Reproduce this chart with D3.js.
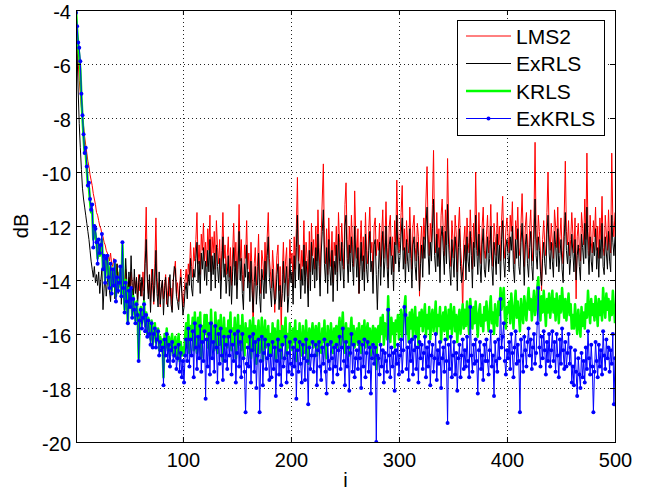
<!DOCTYPE HTML>
<html>
  <head>
    <meta charset="utf-8">
    <style>
      body { margin: 0; background: #fff; }
      text { font-family: "Liberation Sans", Arial, sans-serif; }
    </style>
  </head>
  <body>
    <script type="text/javascript" src="https://cdn.jsdelivr.net/npm/d3@7"></script>
    <script>

    // *** DATA ***

    // tick values / labels
    var xTicks = [100, 200, 300, 400, 500];
    var xTickLabels = ['100', '200', '300', '400', '500'];
    var yTicks = [-20, -18, -16, -14, -12, -10, -8, -6, -4];
    var yTickLabels = ['-20', '-18', '-16', '-14', '-12', '-10', '-8', '-6', '-4'];

    // legend names
    var seriesNames = ['LMS2', 'ExRLS', 'KRLS', 'ExKRLS'];

    // LMS2 (dB), i = 1..500
    var lms2 = [
      -4.0,-5.0,-5.9,-6.6,-7.1,-7.6,-8.0,-8.3,-8.7,-9.0,-9.3,-9.6,-9.8,-10.1,-10.3,-10.5,-10.8,-11.0,-11.2,-11.5,
      -11.6,-11.8,-12.0,-12.1,-12.3,-12.4,-12.6,-12.7,-12.9,-13.0,-13.1,-13.3,-13.0,-13.4,-13.5,-13.2,-13.6,-13.8,-13.4,-13.9,
      -13.7,-14.0,-13.5,-14.1,-13.8,-14.3,-13.6,-14.2,-14.4,-13.9,-14.5,-13.7,-14.2,-14.6,-13.9,-14.3,-14.0,-14.7,-13.8,-14.4,
      -14.1,-14.6,-13.7,-14.4,-12.9,-11.3,-13.8,-14.5,-14.0,-14.8,-13.6,-14.2,-14.9,-13.4,-11.7,-13.9,-14.6,-14.1,-15.0,-14.3,
      -14.0,-14.7,-14.2,-13.8,-14.9,-14.4,-13.9,-14.6,-14.3,-15.1,-14.0,-13.7,-13.3,-14.5,-14.1,-14.8,-14.2,-13.6,-14.4,-15.0,
      -14.5,-14.0,-13.6,-14.2,-13.4,-13.8,-12.6,-13.5,-13.9,-12.8,-13.3,-12.5,-11.5,-13.4,-12.7,-13.8,-12.3,-12.9,-11.9,-13.3,
      -12.6,-13.5,-12.1,-12.9,-11.6,-13.7,-12.4,-13.0,-12.2,-13.6,-11.8,-12.8,-13.4,-12.5,-14.0,-12.9,-11.5,-13.2,-12.7,-13.8,
      -13.1,-12.4,-13.9,-12.8,-14.2,-13.0,-11.9,-13.5,-12.6,-14.0,-12.9,-11.2,-13.3,-12.5,-13.8,-14.4,-12.7,-13.2,-11.8,-13.6,
      -13.0,-14.1,-12.6,-13.7,-16.1,-13.4,-12.8,-14.2,-13.5,-12.3,-13.9,-14.5,-12.9,-13.3,-14.0,-12.6,-13.8,-12.4,-11.5,-13.2,
      -13.7,-14.3,-12.9,-13.6,-15.2,-14.0,-13.1,-12.7,-14.4,-13.5,-16.0,-13.8,-12.6,-14.1,-13.3,-12.8,-14.6,-13.9,-12.5,-13.4,
      -13.0,-14.2,-12.4,-13.6,-12.1,-10.2,-13.3,-12.7,-14.0,-12.9,-13.5,-11.8,-13.8,-12.6,-13.2,-14.3,-12.2,-13.7,-11.9,-13.1,
      -12.5,-13.6,-12.0,-13.3,-11.4,-12.8,-13.9,-12.3,-11.0,-9.7,-12.7,-13.4,-12.1,-13.8,-11.7,-12.9,-13.5,-12.2,-14.1,-12.6,
      -13.1,-12.0,-13.7,-11.5,-12.6,-13.3,-11.9,-12.8,-13.6,-11.2,-10.4,-12.5,-13.4,-12.0,-13.0,-11.6,-12.7,-13.5,-10.7,-12.3,
      -13.2,-12.1,-14.5,-12.8,-11.8,-13.3,-12.4,-13.7,-11.5,-12.9,-13.4,-12.2,-11.3,-13.0,-12.6,-13.8,-12.0,-11.7,-13.1,-12.5,
      -12.9,-11.9,-13.5,-12.3,-11.4,-13.2,-12.6,-11.1,-12.8,-13.6,-12.0,-11.6,-13.1,-12.4,-13.7,-11.8,-12.7,-10.3,-12.2,-13.0,
      -12.4,-11.5,-10.5,-12.9,-12.1,-13.4,-11.8,-12.6,-13.0,-11.3,-12.5,-13.6,-12.0,-11.6,-12.8,-13.3,-11.9,-12.4,-14.6,-12.7,
      -12.0,-13.2,-11.7,-12.5,-11.0,-9.8,-12.3,-13.1,-11.9,-12.6,-11.2,-9.2,-12.4,-13.0,-11.5,-12.8,-12.1,-13.4,-11.6,-11.0,
      -12.2,-13.1,-11.4,-12.7,-9.5,-12.0,-12.9,-13.5,-11.8,-12.5,-13.2,-11.6,-12.3,-13.7,-12.1,-11.3,-12.8,-13.4,-15.3,-12.6,
      -12.0,-13.3,-11.7,-12.6,-13.0,-11.4,-12.4,-13.6,-11.9,-12.8,-10.0,-12.2,-13.1,-11.5,-12.7,-13.4,-12.0,-11.3,-12.9,-13.2,
      -12.3,-11.6,-13.0,-12.5,-11.2,-12.8,-13.5,-11.9,-12.4,-13.1,-11.5,-12.7,-12.0,-13.3,-11.8,-10.9,-12.6,-13.2,-12.1,-11.7,
      -12.4,-13.0,-11.6,-12.2,-11.1,-12.9,-13.4,-11.8,-12.5,-11.3,-12.8,-13.1,-11.9,-10.8,-12.3,-13.5,-12.0,-11.5,-12.7,-13.2,
      -12.1,-11.4,-12.8,-13.3,-11.7,-8.9,-12.4,-12.9,-11.6,-12.2,-13.0,-14.4,-12.5,-11.8,-12.7,-13.1,-11.5,-10.0,-12.3,-12.9,
      -11.9,-12.6,-13.2,-11.4,-12.0,-12.8,-11.3,-13.0,-12.4,-11.7,-12.9,-13.4,-11.6,-9.6,-12.2,-12.7,-11.8,-13.1,-12.5,-11.5,
      -12.3,-13.0,-11.7,-14.7,-12.4,-11.9,-12.8,-13.3,-11.5,-12.1,-12.7,-11.0,-12.5,-9.3,-12.2,-13.1,-11.6,-12.6,-13.0,-11.8,
      -12.4,-11.3,-12.9,-12.0,-13.2,-11.7,-12.5,-10.9,-12.8,-13.1,-11.6,-12.3,-12.9,-11.4,-12.6,-13.0,-9.3,-11.8,-12.4,-11.5
    ];

    // ExRLS (dB)
    var exrls = [
      -4.0,-5.6,-7.0,-8.2,-9.1,-9.9,-10.6,-11.0,-11.3,-11.6,-11.9,-12.2,-12.5,-12.9,-13.3,-13.6,-13.9,-13.5,-14.1,-13.8,
      -14.2,-13.7,-14.5,-14.0,-13.6,-15.1,-14.3,-13.8,-14.6,-14.1,-13.5,-14.4,-14.8,-13.9,-14.2,-13.6,-14.7,-14.0,-13.4,-14.5,
      -14.1,-13.8,-14.9,-13.5,-14.3,-14.6,-13.2,-14.0,-14.8,-13.7,-14.4,-13.1,-14.2,-14.9,-13.6,-14.5,-13.9,-15.0,-14.1,-13.8,
      -14.6,-13.9,-14.3,-15.1,-13.4,-12.5,-14.0,-14.7,-13.8,-15.2,-14.1,-13.6,-14.8,-14.2,-12.9,-14.5,-15.0,-13.7,-14.9,-14.3,
      -14.0,-15.3,-14.4,-13.9,-14.7,-15.0,-14.2,-13.8,-14.9,-15.2,-14.1,-13.5,-13.6,-14.6,-14.8,-15.1,-14.3,-13.9,-14.5,-15.3,
      -15.0,-14.4,-14.1,-14.7,-13.8,-14.2,-13.2,-14.3,-14.6,-13.6,-13.9,-13.2,-12.6,-14.1,-13.3,-14.5,-13.0,-13.6,-12.8,-14.0,
      -13.3,-14.2,-12.9,-13.7,-12.5,-14.4,-13.1,-13.8,-13.0,-14.3,-12.7,-13.5,-14.1,-13.2,-14.7,-13.6,-12.4,-13.9,-13.4,-14.5,
      -13.8,-13.1,-14.6,-13.5,-14.9,-13.7,-12.8,-14.2,-13.3,-14.7,-13.6,-12.2,-14.0,-13.2,-14.5,-15.1,-13.4,-13.9,-12.7,-14.3,
      -13.7,-14.8,-13.3,-14.4,-15.2,-14.1,-13.5,-14.9,-14.2,-13.0,-14.6,-15.2,-13.6,-14.0,-14.7,-13.3,-14.5,-13.1,-12.4,-13.9,
      -14.4,-15.0,-13.6,-14.3,-14.9,-14.7,-13.8,-13.4,-15.1,-14.2,-15.0,-14.5,-13.3,-14.8,-14.0,-13.5,-15.2,-14.6,-13.2,-14.1,
      -13.7,-14.9,-13.1,-14.3,-12.8,-11.6,-14.0,-13.4,-14.7,-13.6,-14.2,-12.7,-14.5,-13.3,-13.9,-15.0,-12.9,-14.4,-12.6,-13.8,
      -13.2,-14.3,-12.8,-14.0,-12.3,-13.5,-14.6,-13.0,-12.2,-11.4,-13.4,-14.1,-12.8,-14.5,-12.5,-13.6,-14.2,-12.9,-14.8,-13.3,
      -13.8,-12.7,-14.4,-12.3,-13.3,-14.0,-12.6,-13.5,-14.3,-12.0,-11.6,-13.2,-14.1,-12.7,-13.7,-12.4,-13.4,-14.2,-12.0,-13.0,
      -13.9,-12.8,-14.5,-13.5,-12.6,-14.0,-13.1,-14.4,-12.3,-13.6,-14.1,-12.9,-12.2,-13.7,-13.3,-14.5,-12.7,-12.5,-13.8,-15.1,
      -13.6,-12.6,-14.2,-13.0,-12.2,-13.9,-13.3,-12.0,-13.5,-14.3,-12.7,-12.4,-13.8,-13.1,-14.4,-12.6,-13.4,-11.6,-12.9,-13.7,
      -13.1,-12.3,-11.7,-13.6,-12.8,-14.1,-12.5,-13.3,-13.7,-12.1,-13.2,-14.3,-12.7,-12.4,-13.5,-14.0,-12.6,-13.1,-14.4,-13.4,
      -12.7,-13.9,-12.4,-13.2,-12.0,-11.3,-13.0,-13.8,-12.6,-13.3,-12.1,-11.0,-13.1,-13.7,-12.3,-13.5,-12.8,-14.1,-12.4,-12.0,
      -12.9,-13.8,-12.2,-13.4,-11.2,-12.7,-13.6,-14.2,-12.5,-13.2,-13.9,-12.4,-13.0,-14.4,-12.8,-12.1,-13.5,-14.1,-13.7,-13.3,
      -12.7,-14.0,-12.4,-13.3,-13.7,-12.2,-13.1,-14.3,-12.6,-13.5,-11.6,-12.9,-13.8,-12.3,-13.4,-14.1,-12.7,-12.1,-13.6,-13.9,
      -13.0,-12.4,-13.7,-13.2,-12.0,-13.5,-14.2,-12.6,-13.1,-13.8,-12.3,-13.4,-12.7,-14.0,-12.5,-11.8,-13.3,-13.9,-12.8,-12.5,
      -13.1,-13.7,-12.4,-12.9,-12.0,-13.6,-14.1,-12.5,-13.2,-12.1,-13.5,-13.8,-12.6,-11.9,-13.0,-14.2,-12.7,-12.3,-13.4,-13.9,
      -12.8,-12.2,-13.5,-14.0,-12.5,-11.0,-13.1,-13.6,-12.4,-12.9,-13.7,-14.2,-13.2,-12.6,-13.4,-13.8,-12.3,-11.6,-13.0,-13.6,
      -12.6,-13.3,-13.9,-12.2,-12.7,-13.5,-12.1,-13.7,-13.1,-12.5,-13.6,-14.1,-12.4,-11.5,-12.9,-13.4,-12.6,-13.8,-13.2,-12.3,
      -13.0,-13.7,-12.5,-14.0,-13.1,-12.7,-13.5,-14.0,-12.3,-12.8,-13.4,-11.9,-13.2,-11.3,-12.9,-13.8,-12.4,-13.3,-13.7,-12.6,
      -13.1,-12.1,-13.6,-12.8,-13.9,-12.5,-13.2,-11.9,-13.5,-13.8,-12.4,-13.0,-13.6,-12.2,-13.3,-13.7,-11.6,-12.6,-13.1,-12.4
    ];

    // KRLS (dB)
    var krls = [
      -4.0,-4.7,-5.3,-5.7,-6.2,-7.2,-8.0,-8.7,-9.3,-9.3,-9.9,-10.5,-10.6,-11.1,-11.5,-11.4,-12.5,-12.1,-12.3,-12.6,
      -13.2,-12.7,-13.1,-12.9,-12.5,-13.6,-13.2,-14.0,-13.3,-13.2,-13.8,-14.2,-13.5,-14.4,-13.7,-14.1,-13.4,-14.6,-13.9,-14.3,
      -14.0,-13.6,-14.5,-12.7,-14.2,-15.1,-14.0,-14.7,-15.6,-14.3,-14.9,-14.4,-15.3,-14.6,-15.0,-15.5,-14.8,-15.2,-16.9,-15.4,
      -15.0,-15.6,-15.3,-14.8,-15.7,-15.2,-16.0,-15.4,-15.8,-16.2,-15.5,-16.4,-15.9,-15.6,-16.3,-16.0,-15.8,-16.6,-16.1,-16.4,
      -16.2,-17.6,-16.0,-16.5,-15.8,-16.6,-16.1,-16.8,-16.3,-16.0,-16.7,-16.4,-16.1,-16.9,-16.5,-16.0,-17.0,-16.3,-16.8,-16.5,
      -16.8,-16.1,-15.6,-16.5,-15.3,-16.7,-15.7,-16.2,-15.4,-16.6,-15.2,-16.0,-16.7,-15.4,-16.2,-15.2,-16.9,-15.7,-16.3,-15.3,
      -16.0,-15.3,-16.5,-15.6,-16.8,-15.1,-16.2,-15.7,-16.6,-15.2,-15.9,-16.7,-15.5,-16.4,-15.3,-16.1,-17.0,-15.4,-16.3,-15.8,
      -16.5,-15.5,-16.1,-15.2,-16.6,-15.8,-16.3,-15.4,-16.9,-16.0,-15.3,-16.4,-15.7,-16.6,-15.3,-16.2,-16.8,-15.6,-16.3,-15.8,
      -16.4,-15.5,-16.9,-15.9,-15.4,-16.6,-15.7,-17.1,-16.1,-15.5,-16.7,-16.2,-15.4,-17.0,-16.0,-15.5,-16.5,-16.1,-15.7,-16.8,
      -16.0,-16.7,-15.6,-16.4,-15.8,-17.0,-16.2,-15.5,-16.6,-15.9,-16.9,-15.7,-16.4,-16.1,-15.4,-16.8,-16.0,-16.5,-15.6,-16.3,
      -16.6,-15.8,-16.3,-15.5,-17.0,-15.9,-16.5,-15.6,-16.4,-16.8,-15.7,-16.2,-16.7,-15.5,-16.3,-17.1,-15.8,-16.4,-16.0,-15.6,
      -16.5,-16.0,-15.7,-16.8,-15.9,-15.6,-16.4,-16.7,-15.8,-16.3,-15.5,-16.5,-16.9,-15.7,-16.2,-16.4,-15.6,-16.1,-16.7,-15.8,
      -16.3,-15.7,-16.5,-15.9,-15.4,-16.4,-15.8,-15.2,-16.2,-16.7,-15.6,-16.3,-15.8,-16.8,-15.9,-15.4,-16.4,-15.7,-16.5,-16.0,
      -15.8,-16.4,-15.6,-16.1,-16.7,-15.7,-16.3,-15.5,-16.5,-15.9,-15.6,-16.4,-15.8,-16.8,-16.0,-15.7,-16.3,-15.8,-17.3,-15.9,
      -15.7,-16.3,-15.4,-16.0,-15.3,-16.4,-15.6,-15.8,-16.2,-14.6,-15.7,-16.3,-15.4,-16.0,-15.6,-16.5,-15.5,-15.9,-15.3,-16.2,
      -15.6,-15.1,-16.1,-15.5,-15.0,-14.6,-16.0,-15.4,-16.3,-15.2,-15.8,-15.1,-16.2,-15.5,-15.0,-16.0,-15.4,-16.4,-15.2,-15.7,
      -15.1,-15.9,-15.4,-14.9,-16.1,-15.3,-15.8,-15.0,-16.2,-15.4,-15.1,-15.9,-15.5,-14.8,-16.0,-15.3,-15.7,-15.0,-16.3,-15.5,
      -15.2,-15.9,-15.0,-15.6,-16.2,-15.1,-15.8,-14.9,-16.0,-15.4,-15.0,-15.9,-15.3,-16.3,-15.5,-15.1,-16.0,-15.4,-14.9,-15.8,
      -15.1,-15.7,-14.8,-15.5,-16.0,-14.7,-15.3,-15.8,-15.0,-15.6,-14.8,-15.5,-16.1,-15.2,-14.9,-15.7,-15.3,-15.9,-15.0,-15.5,
      -14.8,-15.4,-15.9,-15.1,-14.6,-15.6,-15.2,-16.0,-14.9,-15.4,-15.7,-14.8,-15.3,-14.3,-15.1,-14.7,-14.3,-15.4,-15.8,-15.0,
      -15.2,-14.8,-15.6,-14.5,-15.1,-15.8,-15.0,-14.4,-15.4,-14.8,-15.3,-15.9,-14.7,-15.2,-15.6,-14.6,-15.0,-15.5,-14.8,-14.3,
      -15.1,-14.7,-15.5,-14.9,-14.4,-15.3,-15.0,-14.3,-13.9,-14.9,-15.5,-14.6,-15.2,-14.4,-15.0,-15.7,-14.7,-15.2,-14.5,-15.4,
      -14.9,-14.4,-15.2,-14.7,-15.5,-14.5,-15.0,-15.6,-14.6,-15.2,-14.3,-14.9,-15.4,-14.7,-15.5,-15.0,-14.5,-15.3,-14.9,-15.8,
      -15.3,-15.8,-14.9,-15.5,-16.0,-15.1,-15.6,-16.1,-15.0,-15.7,-15.2,-15.8,-14.9,-15.4,-14.4,-15.1,-15.6,-14.7,-15.3,-14.9,
      -15.5,-14.6,-15.1,-15.7,-14.7,-15.3,-14.8,-15.5,-14.3,-15.0,-15.4,-14.5,-15.1,-14.7,-15.5,-14.8,-15.3,-14.4,-15.0,-15.6
    ];

    // ExKRLS (dB)
    var exkrls = [
      -4.1,-4.6,-5.2,-5.4,-5.9,-7.1,-7.9,-8.6,-9.3,-9.1,-9.8,-10.5,-10.4,-11.0,-11.4,-11.2,-12.8,-12.0,-12.1,-12.6,
      -13.4,-12.5,-13.0,-12.7,-12.3,-13.6,-13.1,-14.1,-13.2,-13.1,-13.9,-14.3,-13.4,-14.5,-13.6,-14.2,-13.3,-14.8,-13.9,-14.4,
      -14.1,-13.5,-14.6,-12.6,-14.3,-15.2,-14.1,-14.8,-15.6,-14.4,-15.0,-14.3,-15.4,-14.7,-15.1,-15.6,-14.9,-15.3,-17.0,-15.5,
      -15.1,-15.8,-15.4,-14.9,-15.9,-15.3,-16.1,-15.5,-16.0,-16.4,-15.6,-16.5,-16.0,-15.8,-16.5,-16.2,-15.9,-16.8,-16.3,-16.6,
      -16.5,-17.9,-16.2,-16.8,-16.0,-17.0,-16.4,-17.2,-16.6,-16.3,-17.0,-16.8,-16.5,-17.3,-16.9,-16.4,-17.4,-16.7,-17.6,-17.0,
      -17.8,-16.8,-16.2,-17.0,-15.8,-17.2,-16.2,-16.8,-15.9,-17.6,-15.6,-16.5,-17.3,-16.1,-16.9,-15.7,-17.4,-16.3,-17.0,-15.9,
      -18.4,-16.2,-17.2,-16.0,-17.5,-15.6,-16.9,-16.3,-17.4,-15.7,-16.5,-17.8,-16.0,-17.1,-15.8,-16.8,-17.7,-16.1,-17.0,-16.4,
      -17.3,-16.1,-16.8,-15.9,-17.5,-16.4,-17.0,-16.0,-17.8,-16.7,-15.9,-17.2,-16.3,-17.6,-16.0,-16.9,-17.4,-18.9,-17.1,-16.5,
      -17.2,-16.1,-17.8,-16.6,-16.0,-17.4,-16.3,-18.0,-16.8,-16.2,-18.9,-17.0,-16.1,-17.9,-16.7,-16.2,-17.3,-16.9,-16.4,-17.7,
      -16.8,-17.6,-16.3,-17.3,-16.5,-18.3,-17.0,-16.2,-17.5,-16.6,-17.9,-16.4,-17.2,-16.9,-16.1,-17.8,-16.7,-17.4,-16.3,-17.1,
      -17.5,-16.5,-17.2,-16.2,-18.4,-16.6,-17.4,-16.3,-17.1,-17.8,-16.4,-16.9,-17.7,-16.2,-17.0,-18.6,-16.5,-17.3,-16.8,-16.3,
      -17.4,-16.8,-16.4,-17.9,-16.6,-16.3,-17.2,-17.7,-16.5,-17.1,-16.2,-17.4,-18.2,-16.4,-17.0,-17.3,-16.3,-16.9,-17.8,-16.5,
      -17.2,-16.4,-17.5,-16.6,-16.1,-17.3,-16.5,-15.8,-17.0,-17.9,-16.3,-17.2,-16.5,-18.1,-16.7,-16.0,-17.4,-16.4,-17.6,-16.9,
      -16.6,-17.3,-16.3,-16.9,-18.0,-16.4,-17.2,-16.2,-17.6,-16.7,-16.3,-17.4,-16.5,-18.2,-16.9,-16.4,-17.1,-16.5,-20.0,-16.8,
      -16.9,-17.5,-16.4,-17.2,-16.6,-17.8,-16.7,-17.0,-17.4,-15.1,-16.8,-17.6,-16.5,-17.2,-16.7,-18.1,-16.6,-17.1,-16.4,-17.5,
      -16.8,-16.2,-17.4,-16.6,-15.0,-15.3,-17.3,-16.5,-17.7,-16.3,-17.0,-16.2,-17.5,-16.6,-16.1,-17.3,-16.5,-17.8,-16.3,-16.9,
      -16.4,-17.3,-16.7,-16.1,-17.6,-16.5,-17.2,-16.3,-17.9,-16.8,-16.4,-17.4,-16.9,-16.0,-17.7,-16.6,-17.1,-16.3,-18.0,-16.9,
      -16.5,-17.4,-16.2,-17.0,-19.3,-16.4,-17.3,-16.1,-17.6,-16.8,-16.3,-17.5,-16.7,-18.1,-16.9,-16.4,-17.6,-16.8,-16.2,-17.3,
      -16.6,-17.2,-16.1,-17.0,-17.6,-15.0,-16.8,-17.4,-16.4,-17.1,-16.2,-17.0,-18.2,-16.6,-16.3,-17.3,-16.8,-17.7,-16.4,-17.0,
      -16.2,-17.0,-17.5,-16.6,-15.9,-17.2,-16.8,-18.3,-16.3,-17.0,-17.4,-16.2,-16.9,-14.7,-16.5,-16.1,-15.6,-17.0,-17.5,-16.6,
      -16.9,-16.3,-17.3,-16.0,-16.7,-17.6,-16.5,-15.9,-17.1,-16.4,-17.0,-18.9,-16.2,-16.8,-17.4,-16.1,-16.6,-17.2,-16.3,-15.8,
      -16.8,-16.2,-17.3,-16.5,-16.0,-17.1,-16.7,-15.6,-14.3,-16.5,-17.2,-16.1,-16.9,-15.9,-16.6,-17.5,-16.3,-17.0,-16.0,-17.2,
      -16.6,-15.9,-17.0,-16.3,-17.4,-16.0,-16.8,-17.6,-16.2,-17.1,-15.8,-16.6,-17.3,-16.3,-17.2,-16.7,-16.0,-17.1,-16.5,-17.8,
      -17.2,-17.9,-16.6,-17.4,-18.3,-16.9,-17.5,-18.0,-16.7,-17.6,-17.0,-17.8,-16.5,-17.3,-15.9,-16.9,-17.5,-16.4,-17.2,-18.9,
      -17.4,-16.3,-17.0,-17.6,-16.4,-17.2,-16.6,-17.5,-15.9,-16.8,-17.3,-16.2,-16.9,-16.5,-17.4,-16.6,-17.1,-16.0,-18.6,-16.9
    ];

    // *** LAYOUT ***

    var W = 649, H = 492;
    var plotL = 76, plotR = 615, plotT = 10, plotB = 442;
    var fontSize = 20;

    var colors = ['#ff0000', '#000000', '#00ff00', '#0000ff'];
    var widths = [1, 1, 2.5, 1];

    var x = d3.scaleLinear().domain([1, 500]).range([plotL, plotR]);
    var y = d3.scaleLinear().domain([-20, -4]).range([plotB, plotT]);

    var svg = d3.select('body').append('svg')
      .attr('width', W)
      .attr('height', H)
      .style('background', '#fff');

    svg.append('defs').append('clipPath')
      .attr('id', 'plot-clip')
      .append('rect')
        .attr('x', plotL)
        .attr('y', plotT)
        .attr('width', plotR - plotL)
        .attr('height', plotB - plotT);

    // *** GRID ***

    var grid = svg.append('g')
      .attr('stroke', '#222')
      .attr('stroke-width', 1)
      .attr('stroke-dasharray', '1,3')
      .attr('shape-rendering', 'crispEdges');

    grid.selectAll('.vgrid').data(xTicks).enter().append('line')
      .attr('x1', function(d){ return Math.round(x(d)) + 0.5; })
      .attr('x2', function(d){ return Math.round(x(d)) + 0.5; })
      .attr('y1', plotT)
      .attr('y2', plotB);

    grid.selectAll('.hgrid').data(yTicks).enter().append('line')
      .attr('x1', plotL)
      .attr('x2', plotR)
      .attr('y1', function(d){ return Math.round(y(d)) + 0.5; })
      .attr('y2', function(d){ return Math.round(y(d)) + 0.5; });

    // *** SERIES ***

    var allSeries = [lms2, exrls, krls, exkrls];

    var line = d3.line()
      .x(function(d, i){ return x(i + 1); })
      .y(function(d){ return y(d); });

    var gLines = svg.append('g').attr('clip-path', 'url(#plot-clip)');

    allSeries.forEach(function(s, k){
      gLines.append('path')
        .datum(s)
        .attr('fill', 'none')
        .attr('stroke', colors[k])
        .attr('stroke-width', widths[k])
        .attr('stroke-linejoin', 'round')
        .attr('d', line);
    });

    // dot markers for ExKRLS
    gLines.append('g').selectAll('circle').data(exkrls).enter().append('circle')
      .attr('cx', function(d, i){ return x(i + 1); })
      .attr('cy', function(d){ return y(d); })
      .attr('r', 2)
      .attr('fill', colors[3]);

    // *** AXES ***

    var fmtX = function(d){ return xTickLabels[xTicks.indexOf(d)]; };
    var fmtY = function(d){ return yTickLabels[yTicks.indexOf(d)]; };

    var axB = svg.append('g')
      .attr('transform', 'translate(0,' + plotB + ')')
      .call(d3.axisBottom(x).tickValues(xTicks).tickFormat(fmtX).tickSize(-5).tickPadding(11));
    var axT = svg.append('g')
      .attr('transform', 'translate(0,' + plotT + ')')
      .call(d3.axisTop(x).tickValues(xTicks).tickFormat('').tickSize(-5));
    var axL = svg.append('g')
      .attr('transform', 'translate(' + plotL + ',0)')
      .call(d3.axisLeft(y).tickValues(yTicks).tickFormat(fmtY).tickSize(-5).tickPadding(5));
    var axR = svg.append('g')
      .attr('transform', 'translate(' + plotR + ',0)')
      .call(d3.axisRight(y).tickValues(yTicks).tickFormat('').tickSize(-5));

    [axB, axT, axL, axR].forEach(function(a){
      a.select('.domain').remove();
      a.selectAll('line').attr('stroke', '#000');
      a.selectAll('text')
        .attr('fill', '#000')
        .style('font-size', fontSize + 'px')
        .style('font-family', '"Liberation Sans", Arial, sans-serif');
    });
    axL.selectAll('text').attr('dy', '0.4em');

    // box
    svg.append('rect')
      .attr('x', plotL + 0.5)
      .attr('y', plotT + 0.5)
      .attr('width', plotR - plotL)
      .attr('height', plotB - plotT)
      .attr('fill', 'none')
      .attr('stroke', '#000')
      .attr('stroke-width', 1);

    // axis titles
    svg.append('text')
      .attr('transform', 'translate(28,' + ((plotT + plotB) / 2) + ') rotate(-90)')
      .attr('text-anchor', 'middle')
      .style('font-size', fontSize + 'px')
      .text('dB');

    svg.append('text')
      .attr('x', (plotL + plotR) / 2)
      .attr('y', 487)
      .attr('text-anchor', 'middle')
      .style('font-size', fontSize + 'px')
      .text('i');

    // *** LEGEND ***

    var legX = 457, legY = 20, legW = 147, legH = 115, rowH = 27.5;
    var legend = svg.append('g');

    legend.append('rect')
      .attr('x', legX + 0.5)
      .attr('y', legY + 0.5)
      .attr('width', legW)
      .attr('height', legH)
      .attr('fill', '#fff')
      .attr('stroke', '#000');

    var rows = legend.selectAll('.leg-row').data(seriesNames).enter().append('g')
      .attr('transform', function(d, k){ return 'translate(' + legX + ',' + (legY + 16 + k * rowH) + ')'; });

    rows.append('line')
      .attr('x1', 9)
      .attr('x2', 54)
      .attr('stroke', function(d, k){ return colors[k]; })
      .attr('stroke-width', function(d, k){ return widths[k]; });

    rows.filter(function(d, k){ return k === 3; }).append('circle')
      .attr('cx', 31.5)
      .attr('r', 2)
      .attr('fill', colors[3]);

    rows.append('text')
      .attr('x', 59)
      .attr('dy', '0.36em')
      .style('font-size', '21px')
      .text(function(d){ return d; });

    </script>
  </body>
</html>
